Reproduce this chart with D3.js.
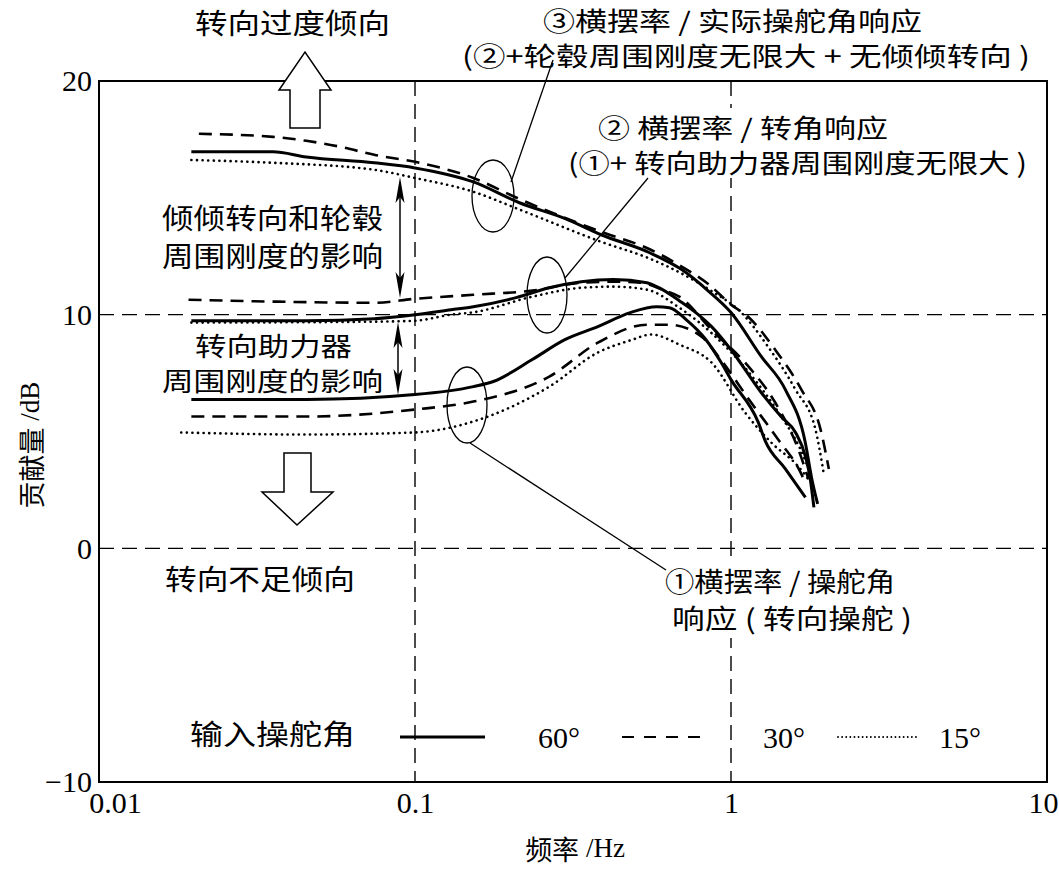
<!DOCTYPE html>
<html lang="zh">
<head>
<meta charset="UTF-8">
<title>贡献量 - 频率</title>
<script src="https://cdn.jsdelivr.net/npm/d3@7"></script>
<style>
  body { margin: 0; background: #fff; }
  svg { display: block; }
  .cjk { font-family: "Noto Sans CJK SC", sans-serif; fill: #000; }
  .num { font-family: "Liberation Serif", "Times New Roman", serif; fill: #000; }
</style>
</head>
<body>
<div id="chart"></div>
<script>
// axis values
var freqTicks = [0.01, 0.1, 1, 10];
var dbTicks = [-10, 0, 10, 20];
var gridFreqs = [0.1, 1];
var gridDbs = [0, 10];
var angleLabels = ["60°", "30°", "15°"];

// [频率 Hz, 贡献量 dB]
// ① 横摆率 / 操舵角响应
var r1_60 = [[0.0196,6.37],[0.0453,6.37],[0.1,6.58],[0.153,6.92],[0.177,7.14],[0.235,8.08],[0.298,8.93],[0.379,9.49],[0.48,10.09],[0.582,10.34],[0.638,10.30],[0.721,9.79],[0.831,8.95],[0.931,7.95],[1.0,7.22],[1.219,5.4],[1.283,4.6],[1.486,3.4],[1.72,2.18]];
var r1_30 = [[0.0196,5.64],[0.0453,5.64],[0.1,5.94],[0.153,6.28],[0.266,7.35],[0.379,8.8],[0.542,9.57],[0.638,9.57],[0.807,9.06],[0.912,8.21],[1.158,6.24],[1.41,4.66],[1.66,3.25],[1.70,2.95]];
var r1_15 = [[0.0182,4.96],[0.0453,4.87],[0.1,4.96],[0.153,5.43],[0.266,6.92],[0.379,8.38],[0.48,8.9],[0.56,9.15],[0.686,8.72],[0.868,7.95],[1.108,5.81],[1.34,4.53],[1.634,3.5],[1.76,2.95]];
// ② 横摆率 / 转角响应
var r2_60 = [[0.0196,9.74],[0.0453,9.74],[0.0743,9.83],[0.1,10.0],[0.13,10.21],[0.153,10.34],[0.209,10.73],[0.266,11.15],[0.336,11.41],[0.425,11.50],[0.542,11.37],[0.607,11.07],[0.686,10.6],[0.774,10.09],[0.868,9.49],[1.0,8.5],[1.246,6.67],[1.44,5.64],[1.60,4.96],[1.72,3.93],[1.78,3.0],[1.83,1.75]];
var r2_30 = [[0.0192,10.64],[0.0355,10.56],[0.0743,10.51],[0.1,10.68],[0.153,10.85],[0.235,11.03],[0.336,11.37],[0.425,11.41],[0.515,11.37],[0.607,11.07],[0.686,10.77],[0.868,9.35],[1.158,7.65],[1.38,6.24],[1.634,4.23],[1.76,2.95]];
var r2_15 = [[0.0196,9.66],[0.0743,9.70],[0.1,9.74],[0.13,10.0],[0.153,10.1],[0.235,10.77],[0.336,11.15],[0.425,11.20],[0.542,11.07],[0.686,10.3],[0.87,9.2],[1.16,7.4],[1.4,5.9],[1.65,4.3],[1.80,3.1]];
// ③ 横摆率 / 实际操舵角响应
var r3_60 = [[0.0196,16.97],[0.0355,16.97],[0.0453,16.75],[0.0743,16.50],[0.1,16.28],[0.153,15.68],[0.214,14.79],[0.30,14.1],[0.388,13.42],[0.553,12.65],[0.70,11.92],[0.85,11.0],[1.0,10.09],[1.246,8.21],[1.486,6.79],[1.72,4.5],[1.80,3.0],[1.88,1.9]];
var r3_30 = [[0.0207,17.74],[0.0355,17.61],[0.0453,17.44],[0.0582,17.18],[0.0743,16.84],[0.1,16.54],[0.153,15.85],[0.214,14.95],[0.388,13.55],[0.553,12.8],[0.70,12.05],[0.85,11.3],[1.0,10.43],[1.133,9.91],[1.38,8.5],[1.67,6.79],[1.92,5.09],[2.04,3.4]];
var r3_15 = [[0.0196,16.62],[0.0355,16.50],[0.0743,16.20],[0.1,15.85],[0.153,15.26],[0.214,14.5],[0.388,13.12],[0.553,12.4],[0.70,11.75],[0.87,11.0],[1.076,10.1],[1.31,8.63],[1.60,6.79],[1.85,5.09],[1.96,3.3]];

var width = 1059, height = 870;
var margin = {top: 81, right: 12, bottom: 88, left: 99};

var svg = d3.select("#chart").append("svg")
    .attr("width", width)
    .attr("height", height);

var x = d3.scaleLog().domain([0.01, 10]).range([margin.left, width - margin.right]);
var y = d3.scaleLinear().domain([-10, 20]).range([height - margin.bottom, margin.top]);

// dashed grid
svg.selectAll(".vgrid").data(gridFreqs).enter().append("line")
    .attr("x1", function(d) { return x(d); }).attr("x2", function(d) { return x(d); })
    .attr("y1", y(20)).attr("y2", y(-10))
    .attr("stroke", "#000").attr("stroke-width", 1.4).attr("stroke-dasharray", "15,8");
svg.selectAll(".hgrid").data(gridDbs).enter().append("line")
    .attr("x1", x(0.01)).attr("x2", x(10))
    .attr("y1", function(d) { return y(d); }).attr("y2", function(d) { return y(d); })
    .attr("stroke", "#000").attr("stroke-width", 1.4).attr("stroke-dasharray", "15,8");

// frame
svg.append("rect")
    .attr("x", x(0.01)).attr("y", y(20))
    .attr("width", x(10) - x(0.01)).attr("height", y(-10) - y(20))
    .attr("fill", "none").attr("stroke", "#000").attr("stroke-width", 2);

// axes
var yAxis = d3.axisLeft(y).tickValues(dbTicks).tickSize(0).tickPadding(7)
    .tickFormat(function(d) { return d < 0 ? "\u2212" + Math.abs(d) : d; });
var gy = svg.append("g").attr("transform", "translate(" + x(0.01) + ",0)").call(yAxis);
gy.select(".domain").remove();
gy.selectAll("text").attr("class", "num").style("font-size", "30px").attr("dy", "0.33em");

var xAxis = d3.axisBottom(x).tickValues(freqTicks).tickSize(0).tickPadding(8)
    .tickFormat(function(d) { return String(d); });
var gx = svg.append("g").attr("transform", "translate(0," + y(-10) + ")").call(xAxis);
gx.select(".domain").remove();
gx.selectAll("text").attr("class", "num").style("font-size", "30px").attr("dy", "0.75em")
    .attr("dx", function(d) { return d === 0.01 ? 16 : 0; });
gx.selectAll("text").filter(function(d) { return d === 10; })
    .attr("text-anchor", "end").attr("dx", 11);

// label backgrounds (they hide the grid)
svg.append("rect").attr("x", 562).attr("y", 108).attr("width", 474).attr("height", 70).attr("fill", "#fff");
svg.append("rect").attr("x", 658).attr("y", 560).attr("width", 262).attr("height", 78).attr("fill", "#fff");

// curves
var line = d3.line()
    .x(function(d) { return x(d[0]); })
    .y(function(d) { return y(d[1]); })
    .curve(d3.curveMonotoneX);

var styles = {
  solid:  {w: 3, dash: null, cap: "butt"},
  dashed: {w: 2.6, dash: "13,8", cap: "butt"},
  dotted: {w: 2.6, dash: "0.1,5.5", cap: "round"}
};
var curves = [
  [r1_60, "solid"], [r1_30, "dashed"], [r1_15, "dotted"],
  [r2_60, "solid"], [r2_30, "dashed"], [r2_15, "dotted"],
  [r3_60, "solid"], [r3_30, "dashed"], [r3_15, "dotted"]
];
curves.forEach(function(c) {
  var s = styles[c[1]];
  svg.append("path")
      .datum(c[0])
      .attr("d", line)
      .attr("fill", "none")
      .attr("stroke", "#000")
      .attr("stroke-width", s.w)
      .attr("stroke-linecap", s.cap)
      .attr("stroke-dasharray", s.dash);
});

// callout ellipses + leader lines
var ellipses = [[493, 196, 21, 36], [547, 295, 20, 38], [467, 405, 20, 38]];
svg.selectAll(".ell").data(ellipses).enter().append("ellipse")
    .attr("cx", function(d) { return d[0]; }).attr("cy", function(d) { return d[1]; })
    .attr("rx", function(d) { return d[2]; }).attr("ry", function(d) { return d[3]; })
    .attr("fill", "none").attr("stroke", "#000").attr("stroke-width", 1.3);
var leaders = [[511, 182, 553, 60], [565, 278, 648, 178], [470, 443, 666, 570]];
svg.selectAll(".lead").data(leaders).enter().append("line")
    .attr("x1", function(d) { return d[0]; }).attr("y1", function(d) { return d[1]; })
    .attr("x2", function(d) { return d[2]; }).attr("y2", function(d) { return d[3]; })
    .attr("stroke", "#000").attr("stroke-width", 1.3);

// double-headed arrows
function dblArrow(ax, y1, y2) {
  svg.append("line").attr("x1", ax).attr("x2", ax).attr("y1", y1 + 10).attr("y2", y2 - 10)
      .attr("stroke", "#000").attr("stroke-width", 1.5);
  svg.append("path").attr("d", "M" + ax + "," + y1 + "L" + (ax - 4.5) + "," + (y1 + 26) +
      "L" + ax + "," + (y1 + 20) + "L" + (ax + 4.5) + "," + (y1 + 26) + "Z").attr("fill", "#000");
  svg.append("path").attr("d", "M" + ax + "," + y2 + "L" + (ax - 4.5) + "," + (y2 - 26) +
      "L" + ax + "," + (y2 - 20) + "L" + (ax + 4.5) + "," + (y2 - 26) + "Z").attr("fill", "#000");
}
dblArrow(400, 177, 298);
dblArrow(398, 322, 395);

// hollow block arrows
svg.append("polygon")
    .attr("points", "290,128 290,90 279,90 305,52 331,90 320,90 320,128")
    .attr("fill", "#fff").attr("stroke", "#000").attr("stroke-width", 1.5);
svg.append("polygon")
    .attr("points", "284,453 311,453 311,492 333,492 297,525 262,492 284,492")
    .attr("fill", "#fff").attr("stroke", "#000").attr("stroke-width", 1.5);

// texts
function label(txt, x0, x1, cy, size) {
  svg.append("text").attr("class", "cjk")
      .attr("x", x0).attr("y", cy)
      .attr("dominant-baseline", "central")
      .attr("textLength", x1 - x0).attr("lengthAdjust", "spacingAndGlyphs")
      .style("font-size", (size || 26) + "px")
      .text(txt);
}
label("转向过度倾向", 195, 390, 22, 28);
label("③横摆率 / 实际操舵角响应", 543, 922, 19);
label("(②+轮毂周围刚度无限大 + 无倾倾转向 )", 462, 1030, 54);
label("② 横摆率 / 转角响应", 598, 888, 126);
label("(①+ 转向助力器周围刚度无限大 )", 568, 1027, 161);
label("倾倾转向和轮毂", 162, 383, 217, 28);
label("周围刚度的影响", 162, 383, 255, 28);
label("转向助力器", 195, 352, 344);
label("周围刚度的影响", 162, 383, 379);
label("转向不足倾向", 165, 355, 578, 28);
label("①横摆率 / 操舵角", 665, 895, 580, 27);
label("响应 ( 转向操舵 )", 672, 912, 617, 27);
label("输入操舵角", 190, 355, 733, 28);

// legend
var legendY = 737;
var legendItems = [
  {x0: 400, x1: 485, tx: 538, style: "solid"},
  {x0: 622, x1: 707, tx: 763, style: "dashed"},
  {x0: 838, x1: 920, tx: 939, style: "legdot"}
];
legendItems.forEach(function(it, i) {
  var ln = svg.append("line")
      .attr("x1", it.x0).attr("x2", it.x1).attr("y1", legendY).attr("y2", legendY)
      .attr("stroke", "#000");
  if (it.style === "solid") ln.attr("stroke-width", 3);
  else if (it.style === "dashed") ln.attr("stroke-width", 2.2).attr("stroke-dasharray", "12,10");
  else ln.attr("stroke-width", 1.8).attr("stroke-dasharray", "0.1,4").attr("stroke-linecap", "round");
  svg.append("text").attr("class", "num")
      .attr("x", it.tx).attr("y", legendY).attr("dominant-baseline", "central")
      .style("font-size", "30px")
      .text(angleLabels[i]);
});

// axis titles
var yt = svg.append("text")
    .attr("transform", "translate(30,445) rotate(-90)")
    .attr("text-anchor", "middle").attr("dominant-baseline", "central")
    .style("font-size", "27px");
yt.append("tspan").attr("class", "cjk").text("贡献量");
yt.append("tspan").attr("class", "num").text(" /dB");

var xt = svg.append("text")
    .attr("x", 575).attr("y", 848)
    .attr("text-anchor", "middle").attr("dominant-baseline", "central")
    .style("font-size", "27px");
xt.append("tspan").attr("class", "cjk").text("频率");
xt.append("tspan").attr("class", "num").text(" /Hz");
</script>
</body>
</html>
